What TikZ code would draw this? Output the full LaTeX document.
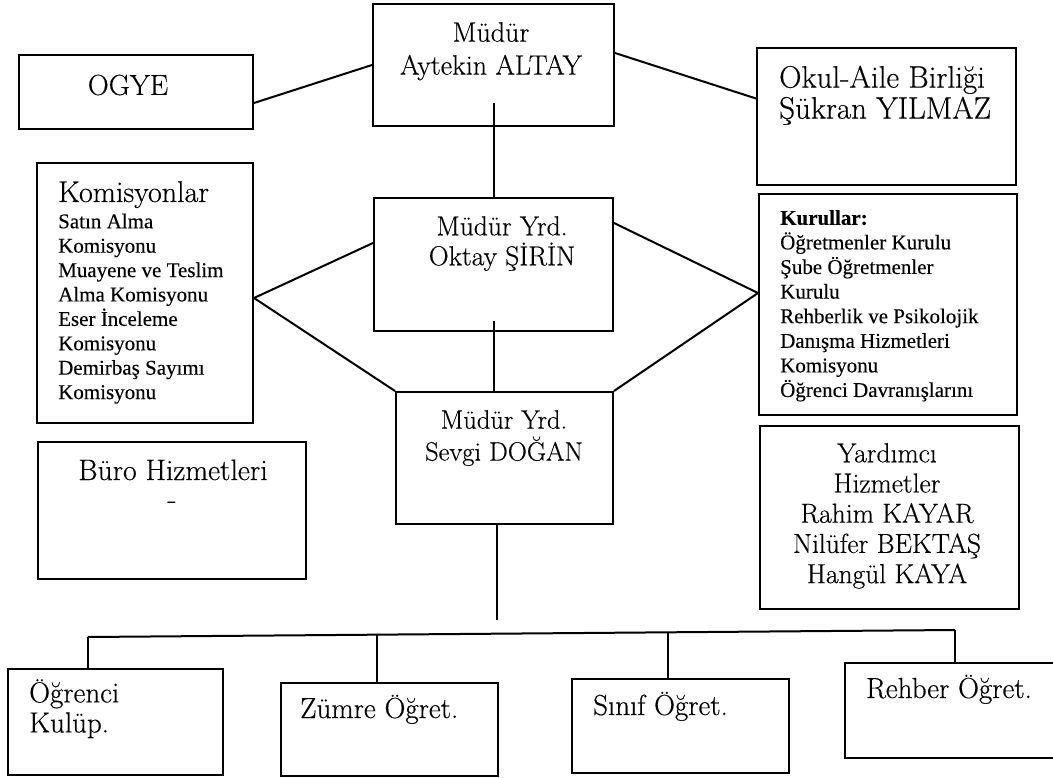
\documentclass[tikz,border=0pt]{standalone}
\usepackage{fontspec}
\setmainfont{Latin Modern Roman}[FakeBold=0.4]
\newfontfamily\listfont{Liberation Serif}[FakeBold=0.2]
\newcommand{\sz}[2]{\fontsize{#1}{#2}\selectfont}

\begin{document}
\begin{tikzpicture}[x=1pt,y=-1pt]
                \tikzstyle{rect}=[rectangle, draw, line width=2pt, inner sep=0pt]
                \tikzstyle{txt}=[inner sep=0pt]
                \tikzstyle{conn}=[line width=2pt]
                \useasboundingbox (0,0) rectangle (1053,778);

                \node[rect, minimum width=241pt, minimum height=122pt] (mudur) at (493.5,65) {};
                \node[rect, minimum width=234pt, minimum height=74pt] (ogye) at (136,92) {};
                \node[rect, minimum width=259pt, minimum height=137pt] (okul) at (886.5,116.5) {};
                \node[rect, minimum width=216pt, minimum height=260pt] (komis) at (145,293) {};
                \node[rect, minimum width=239pt, minimum height=133pt] (oktay) at (493.5,264.5) {};
                \node[rect, minimum width=258pt, minimum height=221pt] (kurul) at (888,304.5) {};
                \node[rect, minimum width=217pt, minimum height=132pt] (sevgi) at (504.5,458) {};
                \node[rect, minimum width=268pt, minimum height=137pt] (buro) at (172,510.5) {};
                \node[rect, minimum width=259pt, minimum height=183pt] (yard) at (889.5,517.5) {};
                \node[rect, minimum width=215pt, minimum height=106pt] (ogrenci) at (115.5,722) {};
                \node[rect, minimum width=217pt, minimum height=93pt] (zumre) at (389.5,729.5) {};
                \node[rect, minimum width=217pt, minimum height=94pt] (sinif) at (680.5,726) {};
                \node[rect, minimum width=222pt, minimum height=95pt] (rehber) at (956,710.5) {};

                \node[txt, anchor=north, align=center, font=\sz{28}{33}] (mudurtxt) at (491,22) {Müdür\\Aytekin ALTAY};
                \node[txt, font=\sz{29}{31}] (ogyetxt) at (128,85) {OGYE};
                \node[txt, anchor=north west, align=left, font=\sz{31}{31}] (okultxt) at (779,65.5) {Okul-Aile Birliği\\Şükran YILMAZ};
                \node[txt, anchor=base west, font=\sz{30}{31}] (komistitle) at (58,202) {Komisyonlar};
                \node[txt, anchor=north west, align=left, font=\listfont\sz{21}{24.4}] (komislist) at (58,213.5) {Satın Alma\\Komisyonu\\Muayene ve Teslim\\Alma Komisyonu\\Eser İnceleme\\Komisyonu\\Demirbaş Sayımı\\Komisyonu};
                \node[txt, anchor=north, align=center, font=\sz{27.5}{30}] (oktaytxt) at (502,216) {Müdür Yrd.\\Oktay ŞİRİN};
                \node[txt, anchor=north west, align=left, font=\listfont\sz{21}{24.6}] (kurultxt) at (780,210) {\textbf{Kurullar:}\\Öğretmenler Kurulu\\Şube Öğretmenler\\Kurulu\\Rehberlik ve Psikolojik\\Danışma Hizmetleri\\Komisyonu\\Öğrenci Davranışlarını};
                \node[txt, anchor=north, align=center, font=\sz{26.5}{32}] (sevgitxt) at (504,410) {Müdür Yrd.\\Sevgi DOĞAN};
                \node[txt, anchor=base, font=\sz{29.5}{31}] (burotxt) at (173,480) {Büro Hizmetleri};
                \node[txt, font=\sz{29}{31}] (burodash) at (172,505) {-};
                \node[txt, anchor=north, align=center, font=\sz{27.5}{30.2}] (yardtxt) at (887,443) {Yardımcı\\Hizmetler\\Rahim KAYAR\\Nilüfer BEKTAŞ\\Hangül KAYA};
                \node[txt, anchor=north west, align=left, font=\sz{29}{30}] (ogrencitxt) at (29,679) {Öğrenci\\Kulüp.};
                \node[txt, anchor=base west, font=\sz{29}{30}] (zumretxt) at (300,718) {Zümre Öğret.};
                \node[txt, anchor=base west, font=\sz{29}{30}] (siniftxt) at (593,715) {Sınıf Öğret.};
                \node[txt, anchor=base west, font=\sz{29}{30}] (rehbertxt) at (866,698) {Rehber Öğret.};

                \coordinate (tend) at (497,620);
                \coordinate (b1) at (88,637);
                \coordinate (b2) at (377,635);
                \coordinate (b3) at (668,632);
                \coordinate (b4) at (955,630);

                \draw[conn] ([yshift=-11pt]ogye.east) -- (mudur.west);
                \draw[conn] ([yshift=12pt]mudur.east) -- ([yshift=18pt]okul.west);
                \draw[conn] ([yshift=24pt]mudur.south) -- (oktay.north);
                \draw[conn] ([yshift=11pt]oktay.south) -- (oktay.south |- sevgi.north);
                \draw[conn] ([yshift=-5pt]komis.east) -- ([yshift=21.5pt]oktay.west);
                \draw[conn] ([yshift=-5pt]komis.east) -- (sevgi.north west);
                \draw[conn] ([yshift=11.5pt]kurul.west) -- ([yshift=41.5pt]oktay.east);
                \draw[conn] ([yshift=11.5pt]kurul.west) -- (sevgi.north east);
                \draw[conn] (tend |- sevgi.south) -- (tend);
                \draw[conn] (b1) -- (b4);
                \draw[conn] (b1) -- (b1 |- ogrenci.north);
                \draw[conn] (b2) -- (b2 |- zumre.north);
                \draw[conn] (b3) -- (b3 |- sinif.north);
                \draw[conn] (b4) -- (b4 |- rehber.north);
            \end{tikzpicture}
\end{document}
